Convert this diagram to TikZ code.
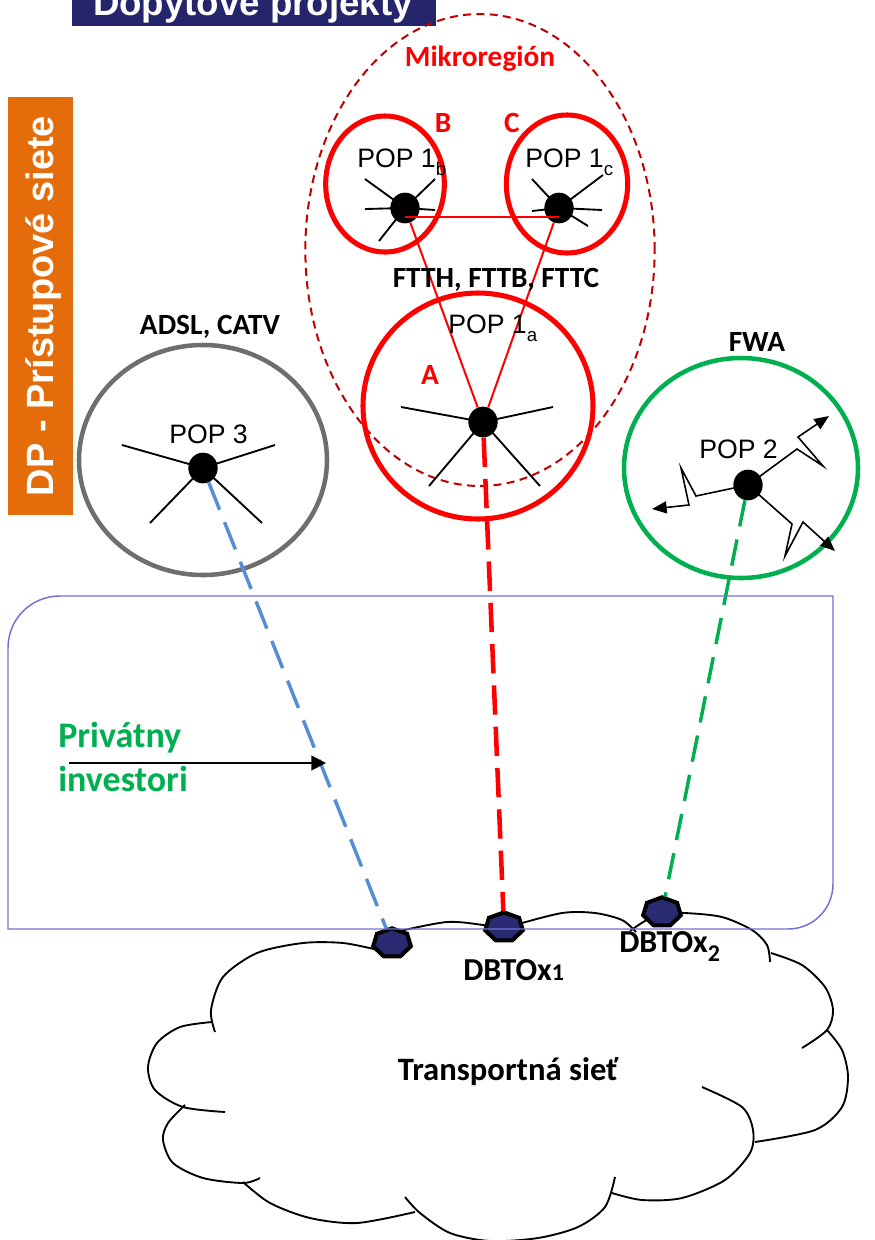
\documentclass[tikz,border=0pt]{standalone}
\usepackage{fontspec}
\setmainfont{Liberation Sans}
\newfontfamily\calfont{Carlito}
\usetikzlibrary{shapes.geometric,arrows.meta}
\definecolor{navyblue}{HTML}{25256B}
\definecolor{dporange}{HTML}{E46C0A}
\definecolor{pred}{HTML}{FF0000}
\definecolor{mikrored}{HTML}{C00000}
\definecolor{popgrey}{HTML}{6E6E6E}
\definecolor{fwagreen}{HTML}{00B050}
\definecolor{linkblue}{HTML}{558ED5}
\definecolor{boxblue}{HTML}{7272D2}
\definecolor{hepnavy}{HTML}{2A2A72}
\begin{document}
\begin{tikzpicture}[x=0.75pt,y=-0.75pt,
  region/.style={ellipse, inner sep=0pt},
  popdot/.style={ellipse, fill=black, inner sep=0pt, minimum width=22pt, minimum height=23pt},
  spoke/.style={line width=1.4pt, black},
  zz/.style={line width=1.2pt, black, -{Triangle[length=11pt,width=9pt]}},
  poplbl/.style={font=\fontsize{20}{24}\selectfont, inner sep=0pt, anchor=base west},
  blbl/.style={font=\calfont\bfseries\fontsize{22}{26}\selectfont, inner sep=0pt, anchor=base},
  dbto/.style={regular polygon, regular polygon sides=7, fill=hepnavy, draw=black, line width=3pt, minimum size=29pt, inner sep=0pt, yscale=0.76},
  cloudline/.style={line width=1.4pt, black},
  thinred/.style={pred, line width=1.5pt}
]
\clip (0,0) rectangle (875,1240);
\fill[white] (0,0) rectangle (875,1240);

% title
\fill[navyblue] (72,-20) rectangle (436,26);
\node[anchor=base, text=white, font=\bfseries\fontsize{27.5}{30}\selectfont, inner sep=0pt] (title) at (253,15) {Dopytové projekty};

% orange side label
\fill[dporange] (8,97) rectangle (73,515);
\node[rotate=90, anchor=base, text=white, font=\bfseries\fontsize{28.5}{30}\selectfont, inner sep=0pt] (dp) at (53,306) {DP - Prístupové siete};

% cloud
\draw[cloudline] plot[smooth] coordinates {(215,1032) (211,1010) (223,977) (257,953) (303,943) (343,943) (378,950)};
\draw[cloudline] plot[smooth] coordinates {(400,931) (447,922) (483,925) (505,930)};
\draw[cloudline] plot[smooth] coordinates {(515,925) (562,913) (595,913) (622,920) (636,932)};
\draw[cloudline] plot[smooth] coordinates {(630,931) (645,921) (662,914) (685,913) (722,917) (752,930) (767,945) (770,962)};
\draw[cloudline] plot[smooth] coordinates {(771,953) (802,965) (825,987) (833,1010) (827,1030) (802,1048)};
\draw[cloudline] plot[smooth] coordinates {(827,1030) (842,1050) (848,1077) (842,1107) (815,1130) (755,1142)};
\draw[cloudline] plot[smooth] coordinates {(702,1087) (742,1107) (753,1130) (750,1153) (725,1180) (682,1198) (642,1200) (612,1193)};
\draw[cloudline] plot[smooth] coordinates {(615,1177) (605,1207) (578,1227) (538,1238) (490,1241) (450,1233) (420,1213) (405,1197)};
\draw[cloudline] plot[smooth] coordinates {(415,1212) (357,1223) (310,1218) (270,1203) (243,1182)};
\draw[cloudline] plot[smooth] coordinates {(260,1178) (243,1183) (203,1178) (173,1163) (163,1140) (168,1123) (185,1105)};
\draw[cloudline] plot[smooth] coordinates {(225,1112) (183,1107) (155,1090) (148,1067) (157,1043) (180,1027) (212,1022)};
\node[blbl, font=\calfont\bfseries\fontsize{24.5}{28}\selectfont] (tn) at (508,1080) {Transportná sieť};

% regions
\node[region, draw=mikrored, line width=1.5pt, dash pattern=on 6pt off 4pt, minimum width=262pt, minimum height=354pt] (mikro) at (480,250) {};
\node[region, draw=pred, line width=3.8pt, minimum width=89pt, minimum height=102pt] (cb) at (385,184) {};
\node[region, draw=pred, line width=3.8pt, minimum width=91pt, minimum height=103.5pt] (cc) at (567,184) {};
\node[region, draw=pred, line width=3.8pt, minimum width=172.5pt, minimum height=169.5pt] (ca) at (478,406) {};
\node[region, draw=popgrey, line width=3.4pt, minimum width=186pt, minimum height=172.5pt] (c3) at (203,460) {};
\node[region, draw=fwagreen, line width=3.4pt, minimum width=175.5pt, minimum height=165pt] (c2) at (741,468) {};

% POP dots
\node[popdot] (dotA) at (483,422) {};
\node[popdot] (dotB) at (405,208) {};
\node[popdot] (dotC) at (559,208) {};
\node[popdot] (dot3) at (203,468) {};
\node[popdot] (dot2) at (748,485) {};

% spokes
\foreach \d in {(-82,-15),(70,-15),(-54,64),(57,64)} \draw[spoke] (dotA.center) -- ++\d;
\foreach \d in {(-81,-23),(72,-23),(-53,55),(59,55)} \draw[spoke] (dot3.center) -- ++\d;
\foreach \d in {(-40,-29),(30,-29),(-40,1),(30,2),(-26,33)} \draw[spoke] (dotB.center) -- ++\d;
\foreach \d in {(-27,-29),(44,-33),(-27,3),(43,2),(29,18)} \draw[spoke] (dotC.center) -- ++\d;

% FWA zigzag radio links
\draw[zz] (dot2.center) -- ++(49,-36) -- ++(26,17) -- ++(-25,-29) -- ++(31,-21);
\draw[zz] (dot2.center) -- ++(-52,11) -- ++(-15,-28) -- ++(8,37) -- ++(-37,4);
\draw[zz] (dot2.center) -- ++(44,39) -- ++(-7,32) -- ++(18,-34) -- ++(32,29);

% red fibre links
\draw[thinred] ([yshift=-7pt]dotB.center) -- ([yshift=-7pt]dotC.center);
\draw[thinred] (dotB) -- (dotA);
\draw[thinred] (dotC) -- (dotA);

% DBTO nodes
\node[dbto] (d0) at (392,943) {};
\node[dbto] (d1) at (504,927) {};
\node[dbto] (d2) at (662,912) {};

% dashed backhaul links
\draw[pred, line width=3.4pt, dash pattern=on 22pt off 9pt] (dotA) -- (d1);
\draw[linkblue, line width=2.6pt, dash pattern=on 22pt off 10pt] (dot3) -- (d0);
\draw[fwagreen, line width=2.6pt, dash pattern=on 20pt off 10pt] (dot2) -- (d2);

% private investors box
\draw[boxblue, line width=1.1pt] (8,929) -- (8,648) .. controls (8,619) and (31,596) .. (60,596) -- (833,596) -- (833,884) .. controls (833,909) and (813,929) .. (788,929) -- cycle;

% labels
\node[blbl, text=pred] (lmik) at (480,66) {Mikroregión};
\node[blbl, text=pred] (lB) at (443,132) {B};
\node[blbl, text=pred] (lC) at (512,132) {C};
\node[blbl, text=pred] (lA) at (430,384) {A};
\node[blbl] (lftt) at (496,287) {FTTH, FTTB, FTTC};
\node[blbl] (ladsl) at (210,334) {ADSL, CATV};
\node[blbl] (lfwa) at (757,351) {FWA};

\node[poplbl] (p1b) at (357,167) {POP 1\raisebox{-6pt}{\fontsize{14}{14}\selectfont b}};
\node[poplbl] (p1c) at (525,167) {POP 1\raisebox{-6pt}{\fontsize{14}{14}\selectfont c}};
\node[poplbl] (p1a) at (448,333) {POP 1\raisebox{-6pt}{\fontsize{14}{14}\selectfont a}};
\node[poplbl] (p3) at (169,443) {POP 3};
\node[poplbl] (p2) at (699,458) {POP 2};

\node[anchor=base west, inner sep=0pt, font=\calfont\bfseries\fontsize{24}{28}\selectfont] (ld1) at (463,980) {DBTOx{\fontsize{18}{20}\selectfont 1}};
\node[anchor=base west, inner sep=0pt, font=\calfont\bfseries\fontsize{24}{28}\selectfont] (ld2) at (619,952) {DBTOx\raisebox{-7pt}{\fontsize{18}{20}\selectfont 2}};

\node[anchor=base west, inner sep=0pt, text=fwagreen, font=\calfont\bfseries\fontsize{27}{30}\selectfont] (priv1) at (58,747) {Privátny};
\node[anchor=base west, inner sep=0pt, text=fwagreen, font=\calfont\bfseries\fontsize{27}{30}\selectfont] (priv2) at (58,791) {investori};
\coordinate (arrS) at (69,763);
\coordinate (arrE) at (326,763);
\draw[line width=1.5pt, -{Triangle[length=11pt,width=11pt]}] (arrS) -- (arrE);
\end{tikzpicture}
\end{document}
